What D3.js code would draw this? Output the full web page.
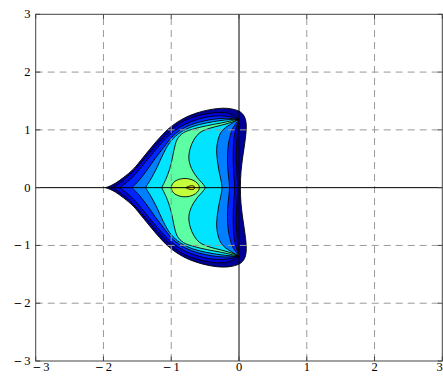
<!DOCTYPE html>
<html><head><meta charset="utf-8">
<script src="https://cdn.jsdelivr.net/npm/d3@7/dist/d3.min.js"></script>
<style>html,body{margin:0;padding:0;background:#fff;overflow:hidden}svg{display:block}</style>
</head><body>
<svg id="c" width="443" height="378"></svg>
<script>
// ---- data (data units, upper half; the figure is symmetric about the real axis) ----
const xTicks = [-3,-2,-1,0,1,2,3];
const yTicks = [-3,-2,-1,0,1,2,3];
const levelColors = ["#000096","#0000D8","#0024FF","#0080FF","#00E4FF","#5CFFA3","#C4FF3B","#FFE600"];
const outerUpper = [[-1.97,0],[-1.90,0.03],[-1.82,0.08],[-1.70,0.18],[-1.56,0.32],[-1.41,0.53],[-1.22,0.80],[-1.03,1.03],[-0.83,1.19],[-0.63,1.29],[-0.43,1.35],[-0.24,1.375],[-0.10,1.36],[0.02,1.31],[0.08,1.23],[0.105,1.12],[0.105,0.98],[0.085,0.77],[0.055,0.53],[0.03,0.28],[0.02,0]];
const contour2Left = [[-1.87,0],[-1.74,0.10],[-1.64,0.20],[-1.51,0.35],[-1.36,0.55],[-1.17,0.80],[-1.00,1.00],[-0.82,1.15],[-0.62,1.24],[-0.42,1.29],[-0.25,1.30],[-0.12,1.27],[0,1.18]];
const contour3Left = [[-1.76,0],[-1.65,0.10],[-1.54,0.22],[-1.41,0.40],[-1.27,0.60],[-1.12,0.80],[-0.96,0.98],[-0.79,1.10],[-0.60,1.185],[-0.40,1.235],[-0.22,1.24],[-0.10,1.22],[0,1.18]];
const contour4Left = [[-1.58,0],[-1.48,0.12],[-1.36,0.30],[-1.24,0.50],[-1.11,0.70],[-0.97,0.90],[-0.80,1.04],[-0.60,1.13],[-0.40,1.18],[-0.22,1.20],[-0.10,1.195],[0,1.18]];
const contour5Left = [[-1.38,0],[-1.30,0.15],[-1.21,0.35],[-1.12,0.58],[-1.01,0.80],[-0.86,0.96],[-0.68,1.06],[-0.48,1.12],[-0.28,1.16],[-0.12,1.18],[0,1.18]];
const contour6Left = [[-1.14,0],[-1.06,0.20],[-1.00,0.42],[-0.96,0.65],[-0.91,0.84],[-0.82,0.95],[-0.66,1.02],[-0.46,1.075],[-0.26,1.12],[-0.10,1.16],[0,1.18]];
const contour2Right = [[0,1.18],[-0.005,1.08],[-0.02,0.95],[-0.035,0.75],[-0.04,0.55],[-0.035,0.35],[-0.025,0.15],[-0.02,0]];
const contour3Right = [[0,1.18],[-0.02,1.11],[-0.05,1.0],[-0.075,0.85],[-0.085,0.65],[-0.085,0.45],[-0.078,0.25],[-0.068,0.1],[-0.065,0]];
const contour4Right = [[0,1.18],[-0.04,1.12],[-0.09,1.03],[-0.13,0.90],[-0.16,0.72],[-0.17,0.52],[-0.165,0.32],[-0.15,0.15],[-0.14,0]];
const contour5Right = [[0,1.18],[-0.05,1.155],[-0.12,1.10],[-0.20,1.04],[-0.27,0.95],[-0.31,0.82],[-0.33,0.66],[-0.32,0.48],[-0.30,0.32],[-0.27,0.15],[-0.25,0]];
const contour6Right = [[0,1.18],[-0.10,1.135],[-0.26,1.08],[-0.44,1.025],[-0.58,0.95],[-0.66,0.84],[-0.72,0.68],[-0.74,0.50],[-0.70,0.33],[-0.62,0.18],[-0.53,0.06],[-0.50,0]];
const contour7Upper = [[-1.0,0],[-0.965,0.09],[-0.88,0.145],[-0.78,0.158],[-0.68,0.13],[-0.61,0.07],[-0.585,0]];
const contour8Upper = [[-0.785,0],[-0.75,0.02],[-0.70,0.033],[-0.665,0.025],[-0.652,0]];

// ---- scales ----
const X = d3.scaleLinear().domain([-3,3]).range([35.7,442.3]);
const Y = d3.scaleLinear().domain([-3,3]).range([361,14.3]);
const svg = d3.select("#c");

const lineGen = d3.line().x(d=>X(d[0])).y(d=>Y(d[1])).curve(d3.curveCatmullRom.alpha(0.5));
const closedGen = d3.line().x(d=>X(d[0])).y(d=>Y(d[1])).curve(d3.curveCatmullRomClosed.alpha(0.5));
const mir = pts => pts.map(([a,b])=>[a,-b]);
const rev = pts => pts.slice().reverse();
function join(arcs){
  return arcs.map((a,i)=>{const s=lineGen(a);return i===0?s:s.replace(/^M/,'L');}).join('')+'Z';
}
function lensPath(left,right){
  return join([rev(left), mir(left), mir(right).concat(rev(right).slice(1))]);
}
const paths = [];
paths.push(join([outerUpper.concat(rev(mir(outerUpper)).slice(1))]));
paths.push(lensPath(contour2Left,contour2Right));
paths.push(lensPath(contour3Left,contour3Right));
paths.push(lensPath(contour4Left,contour4Right));
paths.push(lensPath(contour5Left,contour5Right));
paths.push(lensPath(contour6Left,contour6Right));
paths.push(closedGen(contour7Upper.concat(rev(mir(contour7Upper)).slice(1,-1))));
paths.push(join([contour8Upper.concat(rev(mir(contour8Upper)).slice(1))]));

const gFill = svg.append("g");
paths.forEach((p,i)=>{
  gFill.append("path").attr("d",p).attr("fill",levelColors[i]).attr("stroke","none");
});
paths.forEach((p,i)=>{
  gFill.append("path").attr("d",p).attr("fill","none").attr("stroke","#000").attr("stroke-width",0.9).attr("stroke-linejoin","round");
});

// ---- grid ----
const gGrid = svg.append("g").attr("stroke","#9a9a9a").attr("stroke-width",1).attr("stroke-dasharray","7,5").attr("fill","none");
xTicks.slice(1,-1).filter(v=>v!==0).forEach(v=>{
  gGrid.append("line").attr("x1",X(v)).attr("x2",X(v)).attr("y1",Y(-3)).attr("y2",Y(3));
});
yTicks.slice(1,-1).filter(v=>v!==0).forEach(v=>{
  gGrid.append("line").attr("x1",X(-3)).attr("x2",X(3)).attr("y1",Y(v)).attr("y2",Y(v));
});

// ---- real and imaginary axes ----
svg.append("line").attr("x1",X(-3)).attr("x2",X(3)).attr("y1",Y(0)).attr("y2",Y(0)).attr("stroke","#000").attr("stroke-width",1);
svg.append("line").attr("x1",X(0)).attr("x2",X(0)).attr("y1",Y(-3)).attr("y2",Y(3)).attr("stroke","#000").attr("stroke-width",1);

// ---- frame and ticks ----
const gAx = svg.append("g").attr("stroke","#444").attr("stroke-width",1).attr("fill","none");
gAx.append("rect").attr("x",X(-3)).attr("y",Y(3)).attr("width",X(3)-X(-3)).attr("height",Y(-3)-Y(3));
const tl = 4.5;
xTicks.forEach(v=>{
  gAx.append("line").attr("x1",X(v)).attr("x2",X(v)).attr("y1",Y(-3)).attr("y2",Y(-3)-tl);
  gAx.append("line").attr("x1",X(v)).attr("x2",X(v)).attr("y1",Y(3)).attr("y2",Y(3)+tl);
});
yTicks.forEach(v=>{
  gAx.append("line").attr("x1",X(-3)).attr("x2",X(-3)+tl).attr("y1",Y(v)).attr("y2",Y(v));
  gAx.append("line").attr("x1",X(3)).attr("x2",X(3)-tl).attr("y1",Y(v)).attr("y2",Y(v));
});

// ---- tick labels ----
const gLab = svg.append("g").attr("font-family","'Liberation Serif','DejaVu Serif',serif").attr("font-size",12.5).attr("fill","#000");
function label(v, x, y, anchor){
  const t = gLab.append("text").attr("x",x).attr("y",y).attr("text-anchor",anchor);
  if (v<0){
    t.append("tspan").attr("font-family","'DejaVu Serif',serif").attr("font-size",10.5).text("\u2212");
    t.append("tspan").attr("dx",2).text(Math.abs(v));
  } else t.text(v);
}
xTicks.forEach((v,i)=>{
  if (i===0) label(v, 32.5, 371, "start");
  else if (i===xTicks.length-1) label(v, 442.8, 371, "end");
  else label(v, X(v), 371, "middle");
});
yTicks.forEach(v=>{
  label(v, 30.5, Y(v)+4, "end");
});
</script>
</body></html>
